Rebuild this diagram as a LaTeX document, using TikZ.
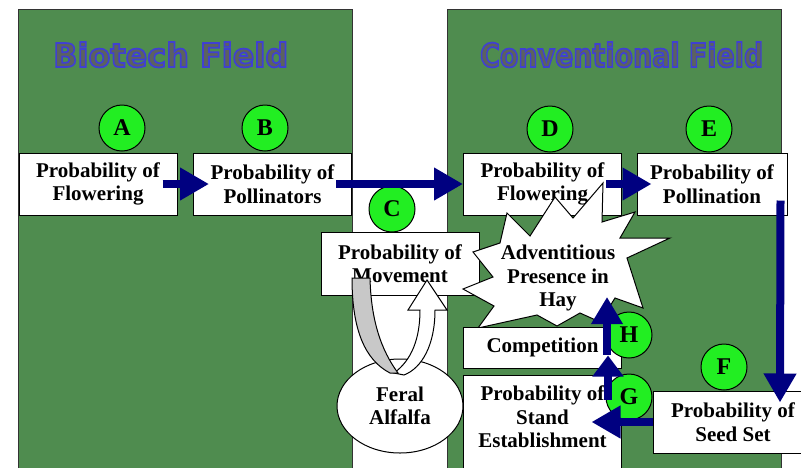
\documentclass[tikz,border=0pt]{standalone}
\usepackage{fontspec}
\setmainfont{Liberation Serif}
\newfontfamily\headfont{DejaVu Sans}
\usepackage{tikz}
\usetikzlibrary{arrows.meta,positioning,shapes.geometric,calc}
\definecolor{fieldgreen}{HTML}{4F8C4F}
\definecolor{flownavy}{HTML}{000080}
\definecolor{tagfill}{HTML}{22EE22}
\definecolor{headfill}{HTML}{5C6260}
\definecolor{backband}{HTML}{C8C8C8}
\newcommand{\outlined}[1]{\special{pdf:literal direct 2 Tr 1.8 w 0.25 0.25 0.82 RG}#1\special{pdf:literal direct 0 Tr}}

\begin{document}
\begin{tikzpicture}[x=1pt,y=-1pt,>=Latex,
  field/.style={draw=black!80,line width=0.8pt,fill=fieldgreen},
  heading/.style={inner sep=0pt,text=headfill,font=\headfont\bfseries\fontsize{34}{34}\selectfont},
  stage/.style={draw,line width=1pt,fill=white,align=center,minimum width=158pt,minimum height=62pt,inner sep=2pt,font=\bfseries\fontsize{21}{23.5}\selectfont},
  tag/.style={circle,draw,line width=1pt,fill=tagfill,minimum size=46pt,inner sep=0pt,font=\bfseries\fontsize{24}{24}\selectfont},
  burst/.style={draw,line width=1pt,fill=white},
  flow/.style={flownavy,line width=8pt,-{Triangle[length=29pt,width=31pt]}}]
\useasboundingbox (0,0) rectangle (801,467);

% the two fields
\path[field] (18,9) rectangle (352,475);
\path[field] (447,9) rectangle (781,475);
\node[heading,anchor=base west] (biohead) at (53,67) {\resizebox{235pt}{25pt}{\outlined{Biotech Field}}};
\node[heading,anchor=base west] (convhead) at (480,67) {\resizebox{283pt}{25pt}{\outlined{Conventional Field}}};

\node[stage] (flowA) at (98,184) {Probability of\\Flowering};
\node[stage] (pollin) at (272.5,184) {Probability of\\Pollinators};
\node[stage] (flowD) at (542.5,184) {Probability of\\Flowering};
\node[stage,minimum width=150pt] (pollE) at (712,184) {Probability of\\Pollination};
\node[stage,minimum height=63pt] (move) at (400,263.5) {Probability of\\Movement};
\node[stage,minimum width=160pt] (seed) at (733,422) {Probability of\\Seed Set};

% adventitious presence
\draw[burst] (507,213) -- (530,236) -- (555,197) -- (573,218) -- (603,183) -- (602,222)
  -- (635,212) -- (620,238) -- (670,238) -- (627,258) -- (643,308) -- (615,298)
  -- (600,322) -- (580,313) -- (557,326) -- (537,315) -- (478,328) -- (494,306)
  -- (463,289) -- (493,277) -- (473,252) -- (500,243) -- cycle;
\node[align=center,inner sep=0pt,font=\bfseries\fontsize{21}{23.5}\selectfont] (hay) at (558,278) {Adventitious\\Presence in\\Hay};

\node[stage,minimum height=41pt] (comp) at (542.5,347.5) {Competition};
\node[stage,minimum height=100pt,anchor=north] (stand) at (542.5,375)
  {\raisebox{6pt}[\height][\depth]{\begin{tabular}{@{}c@{}}Probability of\\Stand\\Establishment\end{tabular}}};

\node[ellipse,draw,line width=1pt,fill=white,minimum width=126pt,minimum height=94pt,inner sep=0pt,align=center,font=\bfseries\fontsize{21}{23.5}\selectfont] (feral) at (400,406) {Feral\\Alfalfa};

% feral loop
\draw[line width=1pt,fill=white] (394,373) .. controls (412,360) and (420,338) .. (420,310) -- (408,310) -- (427,280)
  -- (447,310) -- (435,310) .. controls (435,345) and (422,368) .. (404,375) -- cycle;
\draw[line width=1pt,fill=backband] (352,278) .. controls (352,330) and (365,360) .. (390,373) -- (398,373)
  .. controls (381,350) and (371,320) .. (370,278) -- cycle;

\node[tag] (tagA) at (122,128) {A};
\node[tag] (tagB) at (265,128) {B};
\node[tag] (tagC) at (392,209) {C};
\node[tag] (tagD) at (550,129) {D};
\node[tag] (tagE) at (709,129) {E};
\node[tag] (tagF) at (724,367) {F};
\node[tag] (tagG) at (629,397) {G};
\node[tag] (tagH) at (629,335) {H};

\draw[flow] ($(flowA.east)+(-15,0)$) -- ($(pollin.west)+(16,0)$);
\draw[flow] ($(pollin.east)+(-16,0)$) -- (flowD.west);
\draw[flow] ($(flowD.east)+(-16,0)$) -- ($(pollE.west)+(15,0)$);
\draw[flow] ($(pollE.south east)+(-7,-15)$) -- ($(seed.north)+(47,12)$);
\draw[flow] (seed.west) -- ($(seed.west)+(-61,0)$);
\draw[flow,-{Triangle[length=21pt,width=30pt]}] ($(stand.north east)+(-14,25)$) -- ($(comp.south east)+(-14,-13)$);
\draw[flow,-{Triangle[length=27pt,width=30pt]}] ($(comp.south east)+(-15,-14)$) -- ($(hay)+(49,19)$);
\end{tikzpicture}
\end{document}
